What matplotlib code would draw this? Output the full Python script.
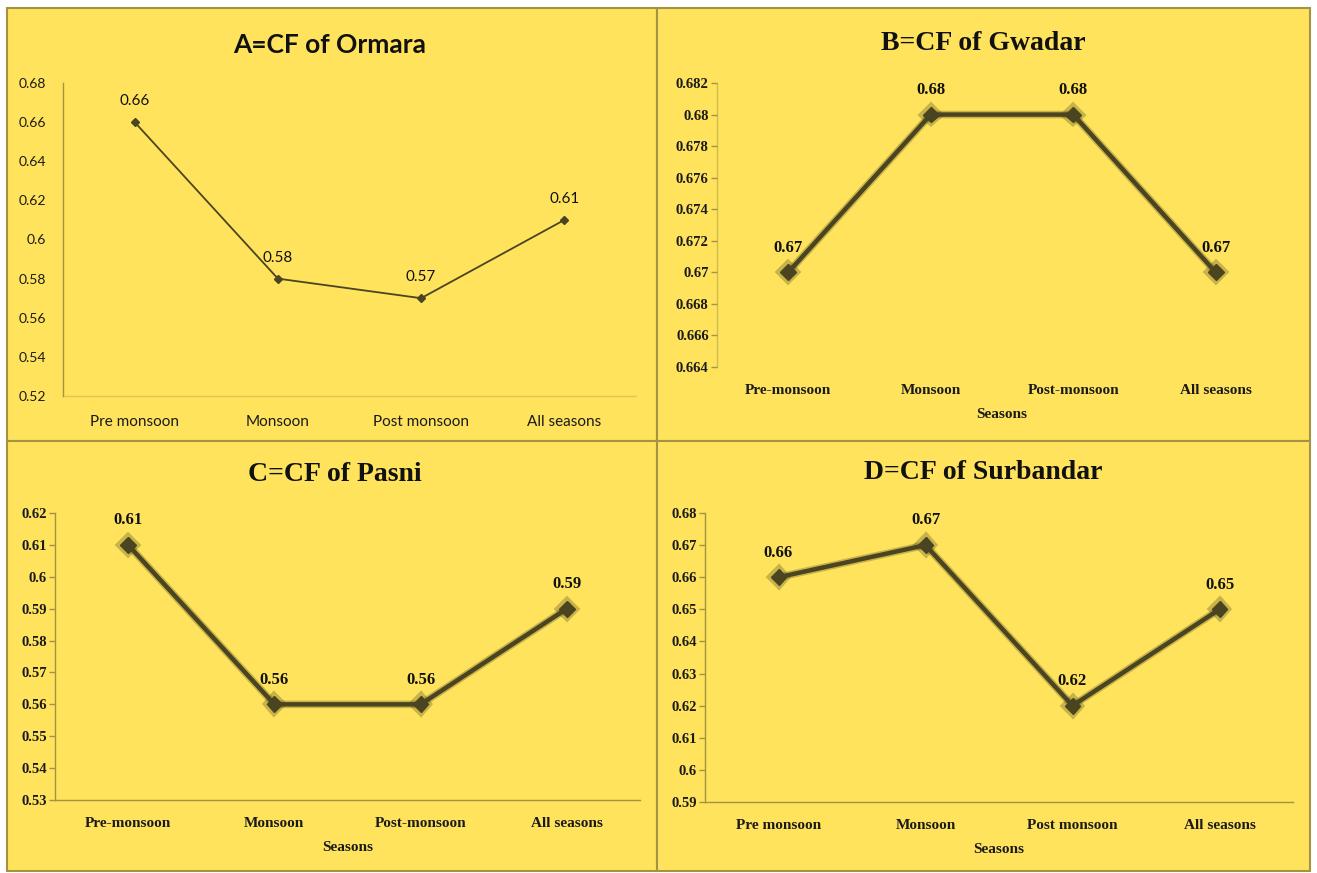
import matplotlib
matplotlib.use("Agg")
import matplotlib.pyplot as plt
import matplotlib.patheffects as pe
from matplotlib.patches import Rectangle
from matplotlib.ticker import MultipleLocator, FuncFormatter

W, H = 1317, 873

seasons_dash = ["Pre-monsoon", "Monsoon", "Post-monsoon", "All seasons"]
seasons_space = ["Pre monsoon", "Monsoon", "Post monsoon", "All seasons"]

ormara = [0.66, 0.58, 0.57, 0.61]
gwadar = [0.67, 0.68, 0.68, 0.67]
pasni = [0.61, 0.56, 0.56, 0.59]
surbandar = [0.66, 0.67, 0.62, 0.65]

YELLOW = "#ffe35c"
EDGE = "#a39443"
LINE = "#4a4420"
SERIF = ["Liberation Serif", "DejaVu Serif"]
SANS = ["Lato", "DejaVu Sans"]


def box(x0, y0, x1, y1):
    # pixel box (top-left origin) -> figure fraction rect
    return [x0 / W, 1 - y1 / H, (x1 - x0) / W, (y1 - y0) / H]


def fmt(v, _pos=None):
    s = f"{round(v, 4):.3f}".rstrip("0").rstrip(".")
    return s


def draw_panel(fig, rect, title, title_xy, cats, vals, ylim, step, style):
    ax = fig.add_axes(box(*rect))
    ax.set_facecolor("none")
    ax.set_zorder(2)
    x = list(range(len(cats)))
    serif = style == "serif"
    family = SERIF if serif else SANS
    weight = "bold" if serif else "normal"

    if serif:
        ax.plot(x, vals, color=LINE, lw=3.2, marker="D", ms=8, mec=LINE,
                path_effects=[pe.Stroke(linewidth=5.5, foreground=LINE, alpha=0.3), pe.Normal()])
    else:
        ax.plot(x, vals, color=LINE, lw=1.3, marker="D", ms=4, mec=LINE)

    for xi, v in zip(x, vals):
        ax.annotate(fmt(v), (xi, v), xytext=(0, 12 if serif else 10), textcoords="offset points",
                    ha="center", va="bottom", fontsize=12 if serif else 11,
                    family=family, weight=weight, color="#111111")

    ax.set_xlim(-0.5, len(cats) - 0.5)
    ax.set_ylim(*ylim)
    ax.yaxis.set_major_locator(MultipleLocator(step))
    ax.yaxis.set_major_formatter(FuncFormatter(fmt))
    ax.set_xticks(x)
    ax.set_xticklabels(cats)

    for sp in ("top", "right"):
        ax.spines[sp].set_visible(False)
    ax.spines["left"].set_color(EDGE)
    ax.spines["bottom"].set_color(EDGE)
    ax.spines["left"].set_linewidth(1.0)
    ax.spines["bottom"].set_linewidth(1.0)

    if serif:
        ax.tick_params(axis="y", length=4, width=1, color=EDGE, pad=2, labelsize=10.5)
        ax.tick_params(axis="x", length=0, pad=12, labelsize=11)
    else:
        ax.tick_params(axis="y", length=0, pad=12, labelsize=10)
        ax.tick_params(axis="x", length=0, pad=14, labelsize=11)
        ax.spines["bottom"].set_alpha(0.35)

    for lbl in ax.get_xticklabels() + ax.get_yticklabels():
        lbl.set_family(family)
        lbl.set_weight(weight)
        lbl.set_color("#1a1a1a")

    if serif:
        ax.set_xlabel("Seasons", fontsize=11, family=family, weight="bold",
                      color="#1a1a1a", labelpad=8)

    fig.text(title_xy[0] / W, 1 - title_xy[1] / H, title, ha="center", va="center",
             fontsize=20 if serif else 19, family=family, weight="bold", color="#111111",
             zorder=3)
    return ax


fig = plt.figure(figsize=(W / 100, H / 100), dpi=100)
fig.patch.set_facecolor("white")

# yellow chart areas with thin olive frames
for x0, y0, x1, y1 in [(7, 8, 657, 441), (657, 8, 1310, 441),
                       (7, 441, 657, 871), (657, 441, 1310, 871)]:
    fig.patches.append(Rectangle((x0 / W, 1 - y1 / H), (x1 - x0) / W, (y1 - y0) / H,
                                 transform=fig.transFigure, facecolor=YELLOW,
                                 edgecolor=EDGE, lw=1.5, zorder=-5))

ax_a = draw_panel(fig, (63, 83, 636, 396), "A=CF of Ormara", (330, 45),
                  seasons_space, ormara, (0.52, 0.68), 0.02, "sans")
ax_b = draw_panel(fig, (717, 83, 1287, 367), "B=CF of Gwadar", (983, 43),
                  seasons_dash, gwadar, (0.664, 0.682), 0.002, "serif")
ax_b.spines["bottom"].set_visible(False)
ax_b.spines["left"].set_alpha(0.5)
ax_c = draw_panel(fig, (55, 513, 640, 800), "C=CF of Pasni", (335, 475),
                  seasons_dash, pasni, (0.53, 0.62), 0.01, "serif")
ax_d = draw_panel(fig, (705, 513, 1293, 802), "D=CF of Surbandar", (983, 473),
                  seasons_space, surbandar, (0.59, 0.68), 0.01, "serif")

fig.savefig("out.png", dpi=100, facecolor=fig.get_facecolor())
